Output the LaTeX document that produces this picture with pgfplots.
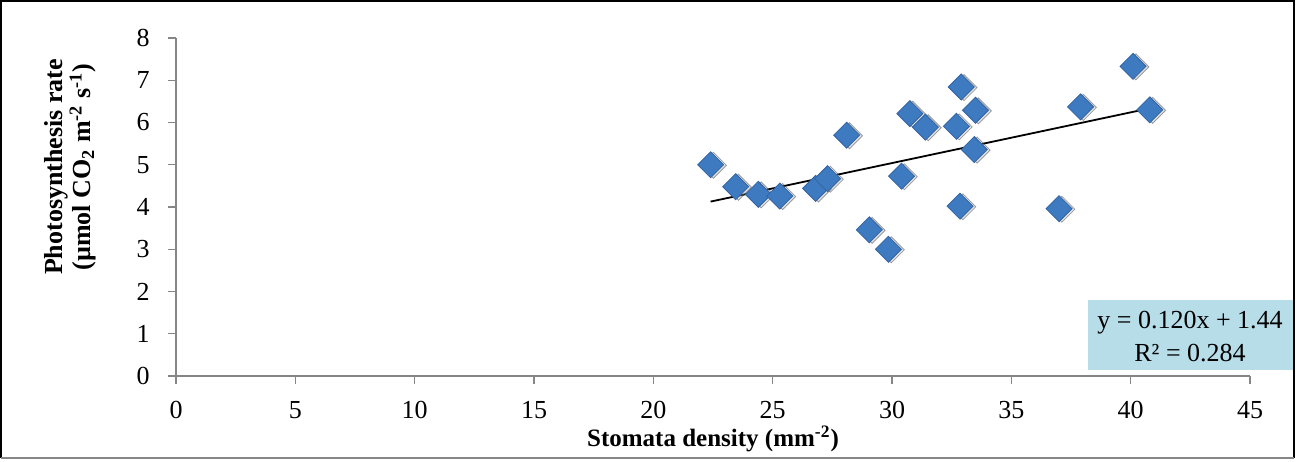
\documentclass[border=0pt]{standalone}
\usepackage{pgfplots}
\pgfplotsset{compat=1.18}
\usepackage{fontspec}
\setmainfont{Liberation Serif}
\definecolor{axisgray}{RGB}{134,134,134}
\definecolor{markblue}{RGB}{62,122,192}
\definecolor{markedge}{RGB}{50,100,165}
\definecolor{boxblue}{RGB}{183,221,232}
\begin{document}
\begin{tikzpicture}[x=1pt,y=1pt]
\useasboundingbox (0,0) rectangle (648.5,230.5);
\begin{axis}[
  at={(88pt,42.5pt)}, anchor=south west,
  scale only axis, width=537pt, height=169pt,
  xmin=0, xmax=45, ymin=0, ymax=8,
  xtick={0,5,...,45}, ytick={0,1,...,8},
  axis lines*=left,
  axis line style={axisgray, line width=0.6pt},
  tick style={axisgray, line width=0.6pt},
  tick align=outside, major tick length=4pt,
  clip=false,
  /pgf/number format/assume math mode=true,
  tick label style={font=\fontsize{13}{15}\selectfont, inner sep=0pt},
  xticklabel style={anchor=center, yshift=-13pt},
  yticklabel style={anchor=east, xshift=-9pt},
]
\addplot[only marks, mark=square*, mark size=4.6pt,
  mark options={rotate=45, fill=black!30, draw=none, opacity=0.35, xshift=0.8pt, yshift=-1.2pt}]
  table {
x y
22.4 5.00
23.45 4.48
24.4 4.30
25.3 4.26
26.8 4.44
27.3 4.67
28.1 5.70
29.05 3.46
29.85 3.00
30.4 4.73
30.75 6.21
31.4 5.89
32.7 5.91
32.9 6.84
32.85 4.02
33.45 5.36
33.5 6.29
37.0 3.96
37.9 6.37
40.1 7.33
40.8 6.30
};
\addplot[only marks, mark=square*, mark size=4.6pt,
  mark options={rotate=45, fill=markblue, draw=markedge, line width=0.4pt}]
  table {
x y
22.4 5.00
23.45 4.48
24.4 4.30
25.3 4.26
26.8 4.44
27.3 4.67
28.1 5.70
29.05 3.46
29.85 3.00
30.4 4.73
30.75 6.21
31.4 5.89
32.7 5.91
32.9 6.84
32.85 4.02
33.45 5.36
33.5 6.29
37.0 3.96
37.9 6.37
40.1 7.33
40.8 6.30
};
\addplot[black, line width=0.9pt, no marks] coordinates {(22.4,4.128) (40.8,6.336)};
\end{axis}
% labels
\node[font=\bfseries\fontsize{12.5}{13}\selectfont] at (356.5,11) {Stomata density (mm\textsuperscript{-2})};
\node[rotate=90, align=center, font=\bfseries\fontsize{13}{12}\selectfont] at (35,147)
  {Photosynthesis rate\\(µmol CO\textsubscript{2} m\textsuperscript{-2} s\textsuperscript{-1})};
% equation box
\fill[boxblue] (544,45.5) rectangle (646.5,80.5);
\node[font=\fontsize{13}{15}\selectfont] at (595,69) {y = 0.120x + 1.44};
\node[font=\fontsize{13}{15}\selectfont] at (595,54) {R² = 0.284};
% frame
\draw[black, line width=1pt] (0.5,1.5) -- (0.5,229.8) -- (647,229.8) -- (647,1.5);
\draw[axisgray, line width=0.7pt] (0.5,1.5) -- (647,1.5);
\end{tikzpicture}
\end{document}
